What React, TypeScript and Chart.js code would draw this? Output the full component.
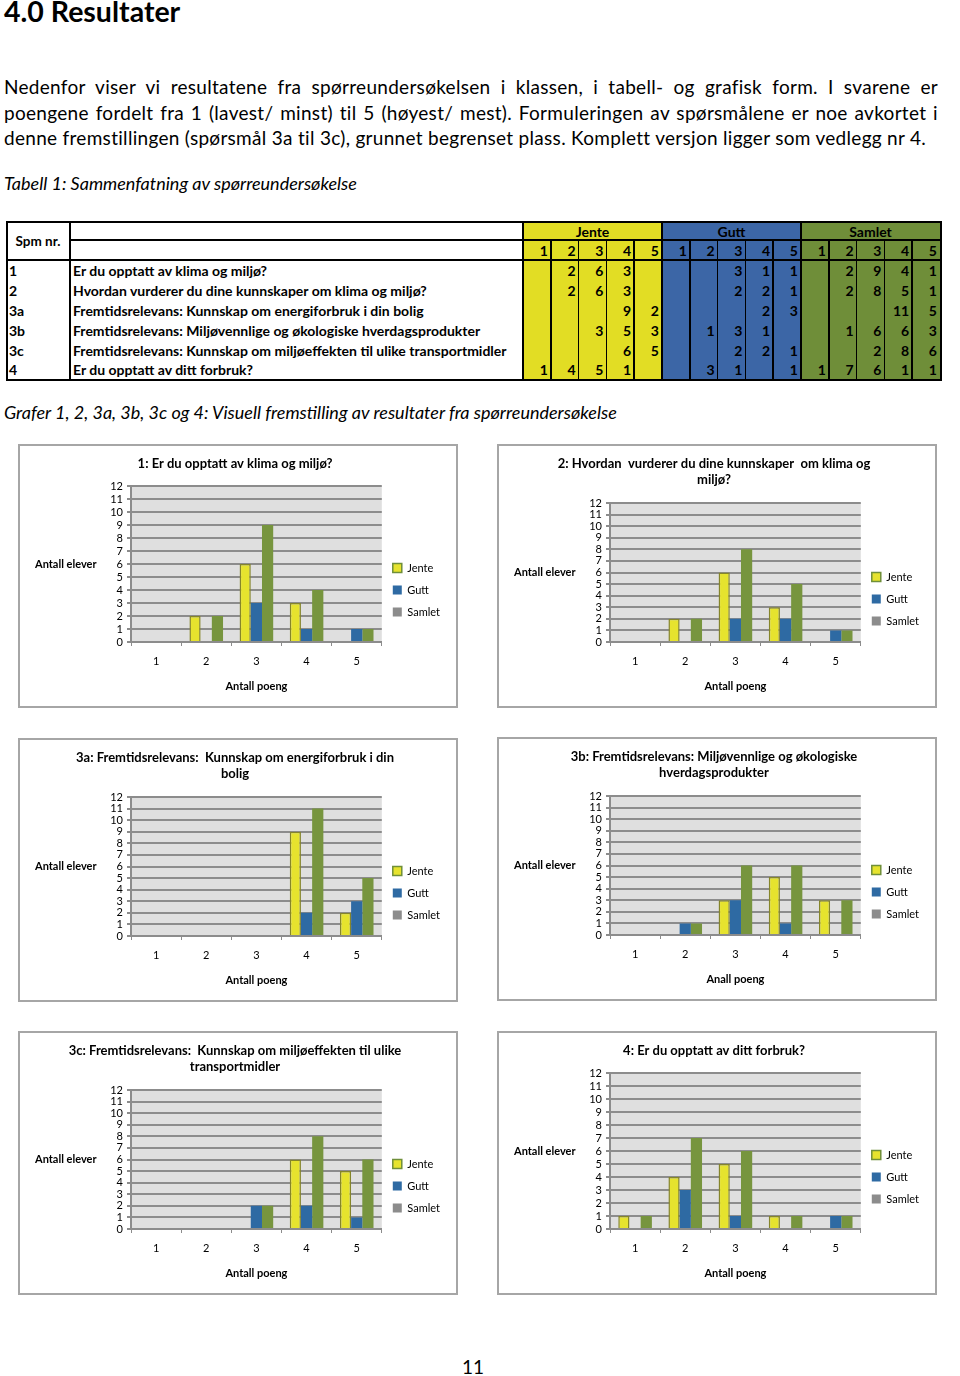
import React, { useEffect, useRef } from 'react';
import { Chart, registerables } from 'chart.js';

Chart.register(...registerables);

const FONT = 'Lato, "Open Sans", sans-serif';

// ---------- data ----------
const categories = ['1', '2', '3', '4', '5'];
const seriesNames = ['Jente', 'Gutt', 'Samlet'];

const q1Jente = [null, 2, 6, 3, null];
const q1Gutt = [null, null, 3, 1, 1];
const q1Samlet = [null, 2, 9, 4, 1];

const q2Jente = [null, 2, 6, 3, null];
const q2Gutt = [null, null, 2, 2, 1];
const q2Samlet = [null, 2, 8, 5, 1];

const q3aJente = [null, null, null, 9, 2];
const q3aGutt = [null, null, null, 2, 3];
const q3aSamlet = [null, null, null, 11, 5];

const q3bJente = [null, null, 3, 5, 3];
const q3bGutt = [null, 1, 3, 1, null];
const q3bSamlet = [null, 1, 6, 6, 3];

const q3cJente = [null, null, null, 6, 5];
const q3cGutt = [null, null, 2, 2, 1];
const q3cSamlet = [null, null, 2, 8, 6];

const q4Jente = [1, 4, 5, 1, null];
const q4Gutt = [null, 3, 1, null, 1];
const q4Samlet = [1, 7, 6, 1, 1];

const questionIds = ['1', '2', '3a', '3b', '3c', '4'];
const questionTexts = [
  'Er du opptatt av klima og miljø?',
  'Hvordan vurderer du dine kunnskaper om klima og miljø?',
  'Fremtidsrelevans: Kunnskap om energiforbruk i din bolig',
  'Fremtidsrelevans: Miljøvennlige og økologiske hverdagsprodukter',
  'Fremtidsrelevans: Kunnskap om miljøeffekten til ulike transportmidler',
  'Er du opptatt av ditt forbruk?',
];
const tableJente = [q1Jente, q2Jente, q3aJente, q3bJente, q3cJente, q4Jente];
const tableGutt = [q1Gutt, q2Gutt, q3aGutt, q3bGutt, q3cGutt, q4Gutt];
const tableSamlet = [q1Samlet, q2Samlet, q3aSamlet, q3bSamlet, q3cSamlet, q4Samlet];

const chartTitles: (string | string[])[] = [
  '1: Er du opptatt av klima og miljø?',
  ['2: Hvordan  vurderer du dine kunnskaper  om klima og', 'miljø?'],
  ['3a: Fremtidsrelevans:  Kunnskap om energiforbruk i din', 'bolig'],
  ['3b: Fremtidsrelevans: Miljøvennlige og økologiske', 'hverdagsprodukter'],
  ['3c: Fremtidsrelevans:  Kunnskap om miljøeffekten til ulike', 'transportmidler'],
  '4: Er du opptatt av ditt forbruk?',
];
const xAxisTitles = ['Antall poeng', 'Antall poeng', 'Antall poeng', 'Anall poeng', 'Antall poeng', 'Antall poeng'];
const yAxisTitle = 'Antall elever';

const paragraphLines = [
  'Nedenfor viser vi resultatene fra spørreundersøkelsen i klassen, i tabell- og grafisk form. I svarene er',
  'poengene fordelt fra 1 (lavest/ minst) til 5 (høyest/ mest). Formuleringen av spørsmålene er noe avkortet i',
  'denne fremstillingen (spørsmål 3a til 3c), grunnet begrenset plass. Komplett versjon ligger som vedlegg nr 4.',
];

// ---------- colours ----------
const JENTE_FILL = '#E6E32E';
const JENTE_EDGE = '#85852A';
const GUTT_FILL = '#2E6AA3';
const SAMLET_FILL = '#77953E';
const LEGEND_SAMLET = '#8C8C8C';
const LEGEND_JENTE_EDGE = '#6F8F3A';
const TAB_JENTE = '#E2DD24';
const TAB_GUTT = '#3C66A6';
const TAB_SAMLET = '#6F8E39';

// ---------- plugins ----------
const plotBg = {
  id: 'plotBg',
  beforeDraw(chart: any) {
    const { ctx, chartArea: a } = chart;
    ctx.save();
    ctx.fillStyle = '#DFDFDF';
    ctx.fillRect(a.left, a.top, a.right - a.left, a.bottom - a.top);
    ctx.restore();
  },
};

const yLabel = {
  id: 'yLabel',
  afterDraw(chart: any) {
    const { ctx, chartArea: a } = chart;
    ctx.save();
    ctx.font = `bold 11px ${FONT}`;
    ctx.fillStyle = '#000';
    ctx.textBaseline = 'middle';
    ctx.textAlign = 'left';
    ctx.fillText(yAxisTitle, 15, (a.top + a.bottom) / 2);
    ctx.restore();
  },
};

type BarProps = {
  title: string | string[];
  xTitle: string;
  jente: (number | null)[];
  gutt: (number | null)[];
  samlet: (number | null)[];
};

function BarChart({ title, xTitle, jente, gutt, samlet }: BarProps) {
  const ref = useRef<HTMLCanvasElement>(null);
  const twoLine = Array.isArray(title);
  useEffect(() => {
    const chart = new Chart(ref.current as HTMLCanvasElement, {
      type: 'bar',
      data: {
        labels: categories,
        datasets: [
          { label: seriesNames[0], data: jente, backgroundColor: JENTE_FILL, borderColor: JENTE_EDGE, borderWidth: 1.5 },
          { label: seriesNames[1], data: gutt, backgroundColor: GUTT_FILL, borderWidth: 0 },
          { label: seriesNames[2], data: samlet, backgroundColor: SAMLET_FILL, borderWidth: 0 },
        ],
      },
      options: {
        responsive: false,
        animation: false,
        layout: { padding: { left: 0, right: 6, top: 0, bottom: 0 } },
        datasets: { bar: { categoryPercentage: 0.67, barPercentage: 1 } },
        plugins: {
          title: {
            display: true,
            text: title,
            color: '#000',
            font: { family: FONT, size: 13, weight: 'bold', lineHeight: 16 / 13 },
            padding: { top: 10, bottom: twoLine ? 15 : 14 },
          },
          legend: {
            position: 'right',
            align: 'center',
            title: { display: true, text: '', font: { size: 1 }, padding: { top: twoLine ? 44.8 : 26.8, bottom: 0 } },
            labels: {
              boxWidth: 9,
              boxHeight: 9,
              padding: 11,
              color: '#000',
              font: { family: FONT, size: 11 },
              generateLabels: () => [
                { text: seriesNames[0], fillStyle: JENTE_FILL, strokeStyle: LEGEND_JENTE_EDGE, lineWidth: 1.5, fontColor: '#000', hidden: false, datasetIndex: 0 },
                { text: seriesNames[1], fillStyle: GUTT_FILL, strokeStyle: GUTT_FILL, lineWidth: 0, fontColor: '#000', hidden: false, datasetIndex: 1 },
                { text: seriesNames[2], fillStyle: LEGEND_SAMLET, strokeStyle: LEGEND_SAMLET, lineWidth: 0, fontColor: '#000', hidden: false, datasetIndex: 2 },
              ],
            },
          },
          tooltip: { enabled: false },
        },
        scales: {
          x: {
            offset: true,
            grid: { display: true, drawOnChartArea: false, drawTicks: true, tickLength: 4, color: '#8C8C8C', offset: true },
            border: { display: true, color: '#8C8C8C', width: 2 },
            ticks: { color: '#000', font: { family: FONT, size: 11 }, padding: 9 },
            title: {
              display: true,
              text: xTitle,
              color: '#000',
              font: { family: FONT, size: 11, weight: 'bold' },
              padding: { top: 0, bottom: 13.4 },
            },
            afterFit: (s: any) => { s.height = 64; },
          },
          y: {
            min: 0,
            max: 12,
            ticks: { stepSize: 1, autoSkip: false, color: '#000', font: { family: FONT, size: 11 }, padding: 4 },
            grid: { color: '#8C8C8C', lineWidth: 2, tickLength: 4 },
            border: { display: true, color: '#8C8C8C', width: 2 },
            afterFit: (s: any) => { s.width = 111; },
          },
        },
      } as any,
      plugins: [plotBg, yLabel],
    });
    return () => chart.destroy();
  }, []);
  return <canvas ref={ref} width={436} height={260} style={{ display: 'block', width: 436, height: 260 }} />;
}

function ChartBox({ left, top, idx, j, g, s }: { left: number; top: number; idx: number; j: any; g: any; s: any }) {
  return (
    <div style={{ position: 'absolute', left, top, width: 440, height: 264, boxSizing: 'border-box', border: '2px solid #A6A6A6', background: '#fff' }}>
      <BarChart title={chartTitles[idx]} xTitle={xAxisTitles[idx]} jente={j} gutt={g} samlet={s} />
    </div>
  );
}

// text positioned by baseline (Lato ascent ~0.987em)
function Txt({ x, y, size, weight = 400, italic = false, width, align, ls = 0, children }: any) {
  return (
    <div
      style={{
        position: 'absolute',
        left: x,
        top: y - 0.987 * size,
        width,
        fontFamily: FONT,
        fontSize: size,
        fontWeight: weight,
        fontStyle: italic ? 'italic' : 'normal',
        letterSpacing: ls,
        lineHeight: `${1.2 * size}px`,
        whiteSpace: width ? 'normal' : 'nowrap',
        textAlign: align || 'left',
        textAlignLast: align === 'justify' ? 'justify' : undefined,
        color: '#000',
      } as any}
    >
      {children}
    </div>
  );
}

const T_LEFT = 6;
const T_TOP = 221;
const T_RIGHT = 942;
const T_BOTTOM = 381;
const C0 = 70;
const C1 = 523;
const NUMW = 27.8;
const ROW1 = 240;
const ROW2 = 259.5;
const ROWH = 19.8;

function Line({ x, y, w, h }: any) {
  return <div style={{ position: 'absolute', left: x, top: y, width: w, height: h, background: '#000' }} />;
}

function Cell({ x, y, w, h, align = 'flex-start', pad = 2, children, size = 14 }: any) {
  return (
    <div
      style={{
        position: 'absolute', left: x, top: y, width: w, height: h, display: 'flex', alignItems: 'center',
        justifyContent: align, boxSizing: 'border-box', paddingLeft: pad, paddingRight: pad,
        fontFamily: FONT, fontSize: size, fontWeight: 700, color: '#000', whiteSpace: 'nowrap',
      }}
    >
      {children}
    </div>
  );
}

function SummaryTable() {
  const groups = [
    { name: seriesNames[0], color: TAB_JENTE, data: tableJente },
    { name: seriesNames[1], color: TAB_GUTT, data: tableGutt },
    { name: seriesNames[2], color: TAB_SAMLET, data: tableSamlet },
  ];
  const els: any[] = [];
  const dy = 1.5;
  groups.forEach((gr, gi) => {
    const gx = C1 + gi * 5 * NUMW;
    els.push(<div key={'bg' + gi} style={{ position: 'absolute', left: gx, top: T_TOP, width: 5 * NUMW, height: T_BOTTOM - T_TOP, background: gr.color }} />);
    els.push(<Cell key={'gh' + gi} x={gx} y={T_TOP + 0.5} w={5 * NUMW} h={ROW1 - T_TOP} align="center">{gr.name}</Cell>);
    categories.forEach((c, ci) => {
      const cx = gx + ci * NUMW;
      els.push(<Cell key={`hn${gi}-${ci}`} x={cx} y={ROW1 + 0.5} w={NUMW} h={ROW2 - ROW1} align="flex-end" pad={3}>{c}</Cell>);
      gr.data.forEach((row, ri) => {
        const v = row[ci];
        if (v != null) {
          els.push(<Cell key={`v${gi}-${ci}-${ri}`} x={cx} y={ROW2 + dy + ri * ROWH} w={NUMW} h={ROWH} align="flex-end" pad={3}>{v}</Cell>);
        }
      });
    });
  });
  questionIds.forEach((id, ri) => {
    els.push(<Cell key={'id' + ri} x={T_LEFT} y={ROW2 + dy + ri * ROWH} w={C0 - T_LEFT} h={ROWH} pad={3}>{id}</Cell>);
    els.push(<Cell key={'qt' + ri} x={C0} y={ROW2 + dy + ri * ROWH} w={C1 - C0} h={ROWH} pad={3}>{questionTexts[ri]}</Cell>);
  });
  els.push(<Cell key="spm" x={T_LEFT} y={T_TOP + 1} w={C0 - T_LEFT} h={ROW2 - T_TOP} align="center" size={13.5}>Spm nr.</Cell>);

  // lines
  els.push(<Line key="lv0" x={C0 - 1} y={T_TOP} w={2} h={T_BOTTOM - T_TOP} />);
  [0, 1, 2].forEach((gi) => {
    els.push(<Line key={'lvg' + gi} x={C1 + gi * 5 * NUMW - 1} y={T_TOP} w={2} h={T_BOTTOM - T_TOP} />);
  });
  for (let i = 1; i < 15; i++) {
    if (i % 5 === 0) continue;
    els.push(<Line key={'lvn' + i} x={C1 + i * NUMW - 0.75} y={ROW1} w={1.5} h={T_BOTTOM - ROW1} />);
  }
  els.push(<Line key="lh1" x={C0} y={ROW1 - 0.75} w={T_RIGHT - C0} h={1.5} />);
  els.push(<Line key="lh2" x={T_LEFT} y={ROW2 - 1} w={T_RIGHT - T_LEFT} h={2} />);
  els.push(
    <div key="outer" style={{ position: 'absolute', left: T_LEFT, top: T_TOP, width: T_RIGHT - T_LEFT, height: T_BOTTOM - T_TOP, border: '2px solid #000', boxSizing: 'border-box' }} />
  );
  return <>{els}</>;
}

export default function App() {
  return (
    <div style={{ position: 'absolute', left: 0, top: 0, width: 960, height: 1376, background: '#fff', overflow: 'hidden' }}>
      <Txt x={4} y={22} size={28.5} weight={700}>4.0 Resultater</Txt>
      <Txt x={4} y={95} size={19} ls={0.3} width={934} align="justify">{paragraphLines[0]}</Txt>
      <Txt x={4} y={120.5} size={19} ls={0.3} width={934} align="justify">{paragraphLines[1]}</Txt>
      <Txt x={4} y={146} size={19} ls={0.3}>{paragraphLines[2]}</Txt>
      <Txt x={4} y={191} size={18} italic>Tabell 1: Sammenfatning av spørreundersøkelse</Txt>
      <SummaryTable />
      <Txt x={4} y={420} size={18} italic>Grafer 1, 2, 3a, 3b, 3c og 4: Visuell fremstilling av resultater fra spørreundersøkelse</Txt>
      <ChartBox left={18} top={444} idx={0} j={q1Jente} g={q1Gutt} s={q1Samlet} />
      <ChartBox left={497} top={444} idx={1} j={q2Jente} g={q2Gutt} s={q2Samlet} />
      <ChartBox left={18} top={738} idx={2} j={q3aJente} g={q3aGutt} s={q3aSamlet} />
      <ChartBox left={497} top={737} idx={3} j={q3bJente} g={q3bGutt} s={q3bSamlet} />
      <ChartBox left={18} top={1031} idx={4} j={q3cJente} g={q3cGutt} s={q3cSamlet} />
      <ChartBox left={497} top={1031} idx={5} j={q4Jente} g={q4Gutt} s={q4Samlet} />
      <Txt x={462} y={1375} size={19}>11</Txt>
    </div>
  );
}
